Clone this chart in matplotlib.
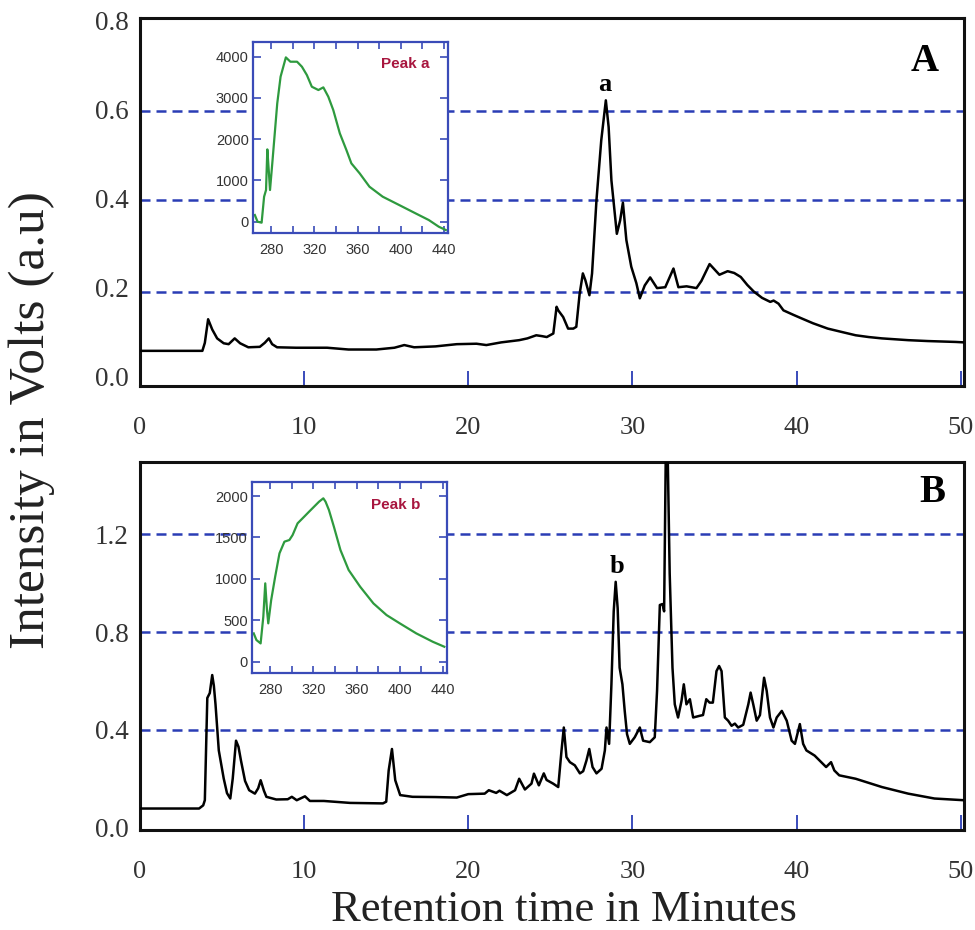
import matplotlib
matplotlib.use('Agg')
import matplotlib.pyplot as plt
from matplotlib.ticker import MultipleLocator

# ---------------- data ----------------
# Panel A chromatogram (minutes, volts)
time_A = [0, 3.8, 3.95, 4.15, 4.4, 4.7, 5.1, 5.4, 5.77, 6.1, 6.6, 7.3, 7.6, 7.85, 8.05, 8.35,
          9.5, 11.4, 12.7, 14.4, 15.5, 16.1, 16.7, 18.0, 19.3, 20.5, 21.1, 22.0, 23.1, 23.6,
          24.14, 24.5, 24.78, 25.18, 25.38, 25.48, 25.78, 26.08, 26.4, 26.58, 26.78, 26.98,
          27.13, 27.38, 27.54, 27.81, 28.1, 28.38, 28.55, 28.72, 29.05, 29.25, 29.42, 29.63,
          29.93, 30.24, 30.45, 30.75, 31.08, 31.5, 32.0, 32.5, 32.8, 33.3, 33.9, 34.2, 34.7,
          35.0, 35.3, 35.8, 36.2, 36.6, 37.0, 37.4, 37.9, 38.4, 38.6, 38.9, 39.2, 39.8, 40.3,
          41.0, 41.9, 42.8, 43.6, 44.4, 45.2, 46.0, 46.8, 48.0, 49.7, 50.2]
volt_A = [0.057, 0.057, 0.075, 0.128, 0.105, 0.085, 0.074, 0.072, 0.085, 0.074, 0.065, 0.066,
          0.075, 0.085, 0.072, 0.065, 0.064, 0.064, 0.060, 0.060, 0.064, 0.070, 0.065, 0.067,
          0.072, 0.073, 0.070, 0.076, 0.081, 0.085, 0.092, 0.090, 0.088, 0.096, 0.156, 0.148,
          0.133, 0.107, 0.107, 0.111, 0.184, 0.231, 0.216, 0.182, 0.231, 0.396, 0.53, 0.62,
          0.56, 0.44, 0.32, 0.35, 0.39, 0.306, 0.246, 0.209, 0.175, 0.204, 0.222, 0.198, 0.200,
          0.242, 0.200, 0.202, 0.198, 0.214, 0.252, 0.240, 0.228, 0.236, 0.232, 0.223, 0.205,
          0.190, 0.176, 0.167, 0.170, 0.163, 0.148, 0.138, 0.130, 0.119, 0.107, 0.099, 0.092,
          0.088, 0.085, 0.083, 0.081, 0.079, 0.077, 0.076]

# Panel B chromatogram (minutes, volts)
time_B = [0, 3.6, 3.85, 3.95, 4.1, 4.25, 4.4, 4.5, 4.6, 4.8, 5.1, 5.3, 5.5, 5.65, 5.85, 6.0,
          6.15, 6.4, 6.65, 7.0, 7.2, 7.35, 7.55, 7.7, 8.3, 9.0, 9.25, 9.55, 10.05, 10.35, 11.2,
          12.8, 14.0, 14.8, 15.0, 15.15, 15.35, 15.55, 15.85, 16.6, 18.0, 19.3, 20.0, 21.0,
          21.25, 21.7, 21.9, 22.35, 22.85, 23.1, 23.45, 23.85, 24.0, 24.3, 24.6, 24.77, 25.17,
          25.48, 25.68, 25.82, 25.98, 26.19, 26.49, 26.8, 27.0, 27.2, 27.37, 27.57, 27.81,
          28.12, 28.32, 28.42, 28.58, 28.72, 28.86, 28.98, 29.1, 29.22, 29.39, 29.53, 29.67,
          29.84, 30.14, 30.45, 30.65, 31.06, 31.36, 31.5, 31.67, 31.83, 31.93, 32.03, 32.15,
          32.27, 32.44, 32.58, 32.78, 32.99, 33.13, 33.29, 33.5, 33.7, 34.1, 34.3, 34.5, 34.7,
          34.9, 35.12, 35.28, 35.43, 35.63, 35.83, 36.04, 36.24, 36.44, 36.75, 37.06, 37.2,
          37.36, 37.57, 37.77, 38.02, 38.18, 38.38, 38.59, 38.79, 39.1, 39.4, 39.7, 39.9,
          40.1, 40.2, 40.4, 40.6, 41.1, 41.4, 41.8, 42.1, 42.3, 42.6, 43.6, 45.2, 46.8, 48.4,
          50.2]
volt_B = [0.077, 0.077, 0.090, 0.111, 0.530, 0.550, 0.624, 0.580, 0.504, 0.315, 0.200, 0.140,
          0.118, 0.200, 0.355, 0.330, 0.274, 0.190, 0.152, 0.138, 0.160, 0.193, 0.150, 0.125,
          0.114, 0.115, 0.125, 0.111, 0.127, 0.108, 0.108, 0.100, 0.099, 0.098, 0.105, 0.233,
          0.321, 0.193, 0.132, 0.125, 0.124, 0.122, 0.136, 0.138, 0.152, 0.141, 0.150, 0.132,
          0.152, 0.199, 0.155, 0.179, 0.220, 0.172, 0.221, 0.194, 0.179, 0.165, 0.315, 0.409,
          0.288, 0.267, 0.254, 0.221, 0.230, 0.274, 0.321, 0.247, 0.221, 0.240, 0.315, 0.409,
          0.342, 0.586, 0.885, 1.006, 0.898, 0.654, 0.586, 0.477, 0.382, 0.342, 0.369, 0.409,
          0.355, 0.349, 0.369, 0.559, 0.911, 0.915, 0.885, 1.52, 1.52, 1.040, 0.654, 0.504,
          0.450, 0.518, 0.586, 0.504, 0.525, 0.450, 0.457, 0.460, 0.525, 0.511, 0.511, 0.640,
          0.661, 0.640, 0.450, 0.437, 0.416, 0.425, 0.409, 0.420, 0.504, 0.552, 0.504, 0.437,
          0.460, 0.613, 0.559, 0.450, 0.409, 0.450, 0.477, 0.437, 0.355, 0.342, 0.396, 0.423,
          0.342, 0.315, 0.294, 0.274, 0.247, 0.267, 0.233, 0.213, 0.199, 0.165, 0.138, 0.118,
          0.111]

# Inset spectra (wavelength nm, intensity)
wl_a = [264.7, 267.2, 271.0, 273.3, 275.1, 276.3, 277.6, 278.8, 280.9, 285.5, 288.6, 293.5,
        297.7, 303.9, 308.4, 313.0, 317.6, 323.7, 328.3, 332.9, 337.5, 343.6, 349.7, 354.3,
        362.0, 371.1, 383.4, 398.7, 413.9, 426.2, 435.4, 442.0]
int_a = [162, 0, -24, 606, 768, 1753, 1252, 768, 1414, 2868, 3515, 3983, 3878, 3878, 3757,
         3555, 3272, 3192, 3256, 3030, 2707, 2141, 1737, 1414, 1172, 848, 606, 404, 202, 40,
         -121, -202]
wl_b = [264.6, 267.1, 271.0, 273.5, 275.3, 276.9, 278.1, 280.8, 284.5, 288.5, 293.1, 297.7,
        300.7, 305.3, 311.4, 316.0, 320.6, 325.2, 329.2, 331.3, 334.4, 339.0, 345.1, 352.7,
        363.4, 375.7, 387.9, 400.2, 415.5, 430.8, 441.5]
int_b = [342, 262, 221, 543, 946, 624, 463, 744, 1026, 1308, 1449, 1469, 1529, 1670, 1750,
         1811, 1871, 1931, 1972, 1931, 1831, 1630, 1348, 1107, 905, 704, 563, 463, 342, 241, 181]

yticks_A = [0.0, 0.2, 0.4, 0.6, 0.8]
yticks_B = [0.0, 0.4, 0.8, 1.2]
xticks_main = [0, 10, 20, 30, 40, 50]
guides_A = [0.19, 0.395, 0.595]
guides_B = [0.4, 0.8, 1.2]
inset_xticks = [280, 320, 360, 400, 440]
inset_yticks_a = [0, 1000, 2000, 3000, 4000]
inset_yticks_b = [0, 500, 1000, 1500, 2000]

# ---------------- style ----------------
SERIF = ['Liberation Serif', 'DejaVu Serif']
SANS = ['Liberation Sans', 'DejaVu Sans']
BLUE = '#2a3db5'
INSET_BLUE = '#3a4bb8'
GREEN = '#2e9a3e'
PEAK_RED = '#a8163f'
TXT = '#333333'

fig = plt.figure(figsize=(9.75, 9.3), dpi=100)


def main_axes(rect, t, v, yticks, guides, ylim, panel, peak_lbl, peak_xy, panel_xy):
    ax = fig.add_axes(rect)
    for g in guides:
        ax.axhline(g, color=BLUE, lw=1.8, dashes=(4, 2.4), zorder=1)
    ax.plot(t, v, color='black', lw=1.8, zorder=3, solid_joinstyle='round')
    ax.set_xlim(0, 50.2)
    ax.set_ylim(*ylim)
    ax.set_xticks(xticks_main)
    ax.set_xticklabels([str(x) for x in xticks_main], family=SERIF, fontsize=19, color=TXT)
    ax.set_yticks(yticks)
    ax.set_yticklabels(['%.1f' % y for y in yticks], family=SERIF, fontsize=19.5, color=TXT)
    ax.tick_params(axis='x', direction='in', length=11, width=1.3, color=BLUE, pad=22)
    ax.tick_params(axis='y', length=0, pad=8)
    for s in ax.spines.values():
        s.set_linewidth(2.2)
        s.set_color('#111111')
    ax.text(panel_xy[0], panel_xy[1], panel, transform=ax.transAxes, family=SERIF,
            fontsize=28, fontweight='bold', ha='center', va='center')
    ax.text(peak_xy[0], peak_xy[1], peak_lbl, family=SERIF, fontsize=19,
            fontweight='bold', ha='center', va='center')
    return ax


def inset_axes(rect, wl, inten, yticks, ylim, label, label_xy):
    ax = fig.add_axes(rect, zorder=5)
    ax.set_facecolor('white')
    ax.plot(wl, inten, color=GREEN, lw=1.6)
    ax.set_xlim(263, 444)
    ax.set_ylim(*ylim)
    ax.set_xticks(inset_xticks)
    ax.xaxis.set_minor_locator(MultipleLocator(20))
    ax.set_yticks(yticks)
    ax.set_xticklabels([str(x) for x in inset_xticks], family=SANS, fontsize=10.5, color=TXT)
    ax.set_yticklabels([str(y) for y in yticks], family=SANS, fontsize=10.5, color=TXT)
    ax.tick_params(axis='x', which='both', direction='in', top=True, bottom=True,
                   color=INSET_BLUE, width=1.2, pad=7, length=5)
    ax.tick_params(axis='y', direction='in', left=True, right=True, length=6,
                   color=INSET_BLUE, width=1.2, pad=3)
    for tk in ax.yaxis.get_major_ticks():
        tk.tick1line.set_color('#222222')
    for s in ax.spines.values():
        s.set_color(INSET_BLUE)
        s.set_linewidth(1.6)
    ax.text(label_xy[0], label_xy[1], label, transform=ax.transAxes, family=SANS,
            fontsize=11, fontweight='bold', color=PEAK_RED, ha='center', va='center')
    return ax


axA = main_axes([140 / 975, 1 - 386 / 930, 824 / 975, 368 / 930], time_A, volt_A,
                yticks_A, guides_A, (-0.022, 0.805), 'A', 'a', (28.3, 0.655), (0.952, 0.882))
axB = main_axes([140 / 975, 1 - 830 / 930, 824 / 975, 368 / 930], time_B, volt_B,
                yticks_B, guides_B, (-0.011, 1.497), 'B', 'b', (29.05, 1.07), (0.962, 0.918))

inset_axes([253 / 975, 1 - 233 / 930, 195 / 975, 191 / 930], wl_a, int_a,
           inset_yticks_a, (-274, 4356), 'Peak a', (0.78, 0.885))
inset_axes([252 / 975, 1 - 673 / 930, 195 / 975, 191 / 930], wl_b, int_b,
           inset_yticks_b, (-136, 2169), 'Peak b', (0.735, 0.88))

fig.text(0.033, 0.548, 'Intensity in Volts (a.u)', rotation=90, family=SERIF,
         fontsize=37, ha='center', va='center', color='#222222')
fig.text(0.578, 0.022, 'Retention time in Minutes', family=SERIF, fontsize=32,
         ha='center', va='center', color='#222222')

fig.savefig('out.png', dpi=100)
